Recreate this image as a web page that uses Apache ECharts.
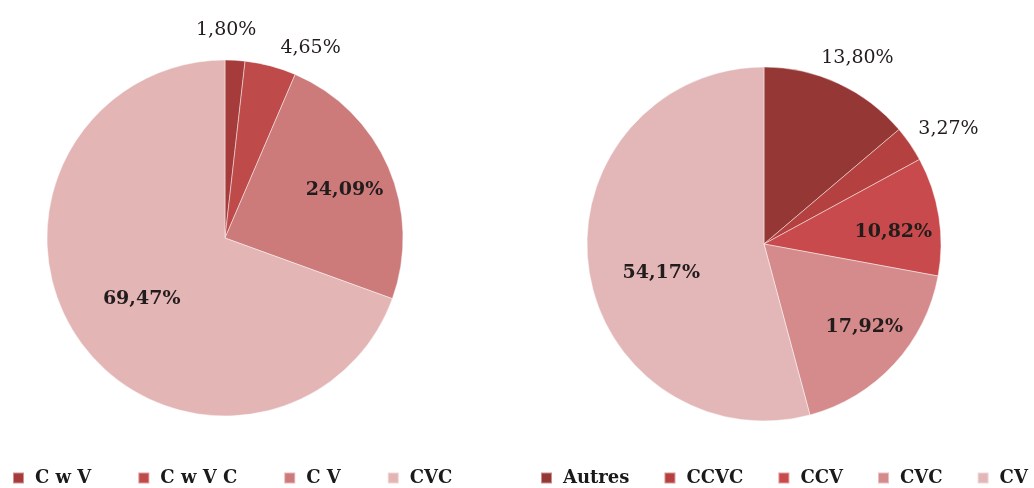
<!DOCTYPE html>
<html>
<head>
<meta charset="utf-8">
<script src="https://cdn.jsdelivr.net/npm/echarts@6/dist/echarts.min.js"></script>
<style>
html,body{margin:0;padding:0;background:#fff;}
#chart{width:1034px;height:488px;}
</style>
</head>
<body>
<div id="chart"></div>
<script>
// Left pie data
const leftNames = ['C w V', 'C w V C', 'C V', 'CVC'];
const leftValues = [1.80, 4.65, 24.09, 69.47];
// Right pie data
const rightNames = ['Autres', 'CCVC', 'CCV', 'CVC', 'CV'];
const rightValues = [13.80, 3.27, 10.82, 17.92, 54.17];

// styling / layout (kept separate from data)
const leftColors = ['#a63b3b', '#bf4a4a', '#cc7a7a', '#e3b5b5'];
const rightColors = ['#953735', '#b4403f', '#c94a4c', '#d58a8b', '#e3b7b8'];
const leftLabelOffsets = [[-4, -116], [62, -101], [35, -11], [-8, 8]];
const rightLabelOffsets = [[55, -103], [109, -63], [39, 2], [33, 21], [-12, 17]];
const leftLabelWeights = ['normal', 'normal', 'bold', 'bold'];
const rightLabelWeights = ['normal', 'normal', 'bold', 'bold', 'bold'];

const FONT = '"DejaVu Serif", "Liberation Serif", serif';

function fmt(v) {
  return v.toFixed(2).replace('.', ',') + '%';
}

function buildData(names, values, colors, offsets, weights) {
  return names.map((n, i) => ({
    name: n,
    value: values[i],
    itemStyle: { color: colors[i] },
    label: { offset: offsets[i], fontWeight: weights[i] }
  }));
}

const chart = echarts.init(document.getElementById('chart'));

const commonSeries = {
  type: 'pie',
  startAngle: 90,
  clockwise: true,
  avoidLabelOverlap: false,
  animation: false,
  label: {
    show: true,
    position: 'inside',
    formatter: p => fmt(p.value),
    fontFamily: FONT,
    fontSize: 19,
    color: '#231c1c'
  },
  labelLine: { show: false },
  itemStyle: { borderColor: 'rgba(255,255,255,0.45)', borderWidth: 1 },
  emphasis: { disabled: true }
};

const legendCommon = {
  orient: 'horizontal',
  top: 469,
  padding: 0,
  icon: 'rect',
  itemWidth: 11,
  itemHeight: 11,
  textStyle: {
    fontFamily: FONT,
    fontSize: 18,
    fontWeight: 'bold',
    color: '#1a1a1a',
    padding: [0, 0, 0, 6]
  },
  selectedMode: false
};

chart.setOption({
  backgroundColor: '#ffffff',
  animation: false,
  legend: [
    Object.assign({}, legendCommon, {
      left: 12,
      width: 480,
      itemGap: 46,
      data: leftNames.map((n, i) => ({ name: n, itemStyle: { color: leftColors[i] } }))
    }),
    Object.assign({}, legendCommon, {
      left: 540,
      width: 700,
      itemGap: 34,
      data: rightNames.map((n, i) => ({ name: n, itemStyle: { color: rightColors[i] } }))
    })
  ],
  series: [
    Object.assign({}, commonSeries, {
      name: 'left',
      center: [225, 238],
      radius: 178,
      data: buildData(leftNames, leftValues, leftColors, leftLabelOffsets, leftLabelWeights)
    }),
    Object.assign({}, commonSeries, {
      name: 'right',
      center: [764, 244],
      radius: 177,
      data: buildData(rightNames, rightValues, rightColors, rightLabelOffsets, rightLabelWeights)
    })
  ]
});
</script>
</body>
</html>
